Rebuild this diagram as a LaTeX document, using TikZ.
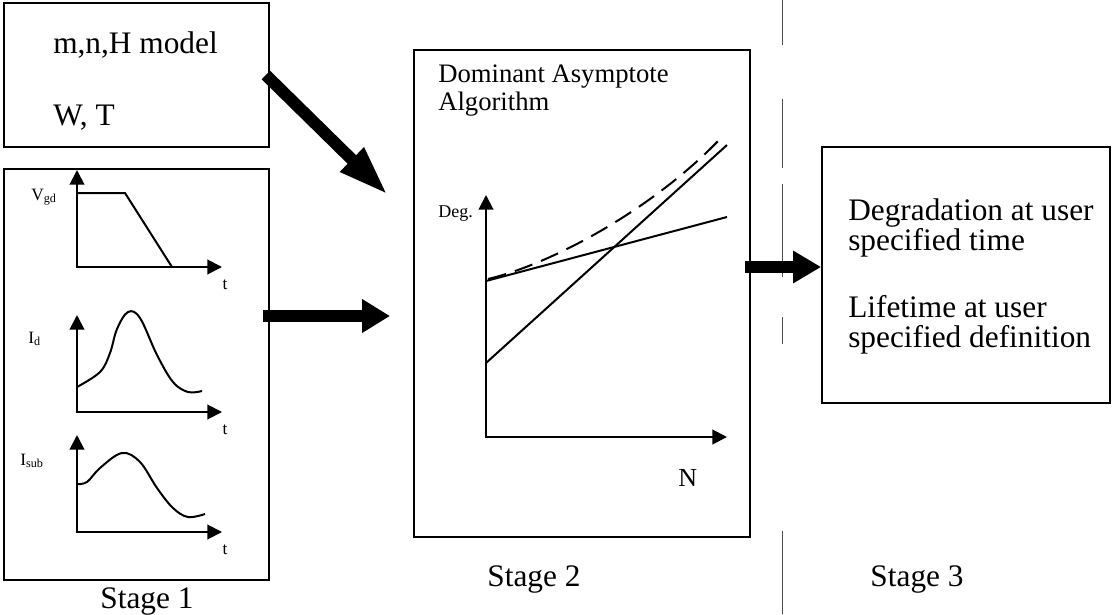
\documentclass[tikz,border=0pt]{standalone}
\usepackage{fontspec}
\setmainfont{Liberation Serif}
\usetikzlibrary{arrows.meta,positioning}

\begin{document}
\begin{tikzpicture}[x=0.75pt,y=-0.75pt,
    box/.style={draw,line width=1.3pt,inner sep=0pt},
    axes/.style={line width=1.5pt,{Triangle[length=11pt,width=11pt]}-{Triangle[length=11pt,width=11pt]}},
    curve/.style={line width=1.5pt},
    bigarrow/.style={line width=9pt,-{Triangle[length=21pt,width=24pt]}},
    lbl/.style={anchor=base west,inner sep=0pt},
    big/.style={font=\fontsize{23.5}{27}\selectfont},
    mid/.style={font=\fontsize{20}{21}\selectfont},
    small/.style={font=\fontsize{13}{15}\selectfont}]
    \useasboundingbox (0,0) rectangle (1112,614);

    % boxes
    \node[box,minimum width=198.75pt,minimum height=108pt] (inputs) at (136.5,75) {};
    \node[box,minimum width=198.75pt,minimum height=308.25pt] (waveforms) at (136.5,374.5) {};
    \node[box,minimum width=252pt,minimum height=365.25pt] (algo) at (582,293.5) {};
    \node[box,minimum width=216pt,minimum height=192pt] (result) at (966,275) {};

    % stage divider
    \draw[black!70,line width=0.6pt,dash pattern=on 34pt off 40pt on 52pt off 12pt on 70pt off 30pt on 20pt off 140pt on 63pt off 1pt] (782,0) -- (782,614);

    % texts
    \node[lbl,big] (mnh) at (53,53) {m,n,H model};
    \node[lbl,big] (wt) at (53,125) {W, T};
    \node[lbl,mid] (dom1) at (438,82) {Dominant Asymptote};
    \node[lbl,mid] (dom2) at (438,110) {Algorithm};
    \node[lbl,big] (res1) at (848,220) {Degradation at user};
    \node[lbl,big] (res2) at (848,250) {specified time};
    \node[lbl,big] (res3) at (848,317) {Lifetime at user};
    \node[lbl,big] (res4) at (848,347) {specified definition};
    \node[big,anchor=base] (stage1) at (147,608) {Stage 1};
    \node[big,anchor=base] (stage2) at (534,586) {Stage 2};
    \node[big,anchor=base] (stage3) at (917,586) {Stage 3};

    % stage 1 waveforms
    \foreach \oy in {267,412,532} {
        \draw[axes] (77,\oy-97) -- (77,\oy) -- (222,\oy);
        \node[small,anchor=base] (t\oy) at (225,\oy+22) {t};
    }
    \node[lbl,small] (vgd) at (31,200) {V\textsubscript{gd}};
    \node[lbl,small] (id) at (28,343) {I\textsubscript{d}};
    \node[lbl,small] (isub) at (20,465) {I\textsubscript{sub}};
    \draw[curve] (77,193) -- (125,193) -- (172,267);
    \draw[curve] plot[smooth,tension=0.6] coordinates {(77,387) (100,372) (110,353) (117,329) (128,312) (140,318) (157,355) (173,382) (188,392) (202,391)};
    \draw[curve] plot[smooth,tension=0.6] coordinates {(77,484) (87,482) (100,468) (122,453) (140,462) (157,488) (173,508) (188,517) (205,514)};

    % stage 2 asymptotes
    \draw[axes] (486,195) -- (486,437) -- (727,437);
    \node[lbl,font=\fontsize{13.5}{15}\selectfont] (deg) at (438,217) {Deg.};
    \node[lbl,font=\fontsize{19.5}{21}\selectfont] (nlbl) at (678,486) {N};
    \draw[curve] (486,281) -- (727,217);
    \draw[curve] (486,363) -- (727,145);
    \draw[curve,dash pattern=on 14pt off 7pt] (488,279) .. controls (555,263) and (655,207) .. (720,139);

    % flow arrows
    \coordinate (a1s) at ([xshift=-3pt]inputs.east);
    \coordinate (a1e) at (388,195);
    \coordinate (a2s) at (263,316);
    \coordinate (a2e) at (390,316);
    \coordinate (a3s) at (745,267);
    \coordinate (a3e) at ([yshift=6pt]result.west);
    \draw[bigarrow,-{Triangle[length=38pt,width=23pt]}] (a1s) -- (a1e);
    \draw[bigarrow] (a2s) -- (a2e);
    \draw[bigarrow,-{Triangle[length=21pt,width=23pt]}] (a3s) -- (a3e);
\end{tikzpicture}
\end{document}
